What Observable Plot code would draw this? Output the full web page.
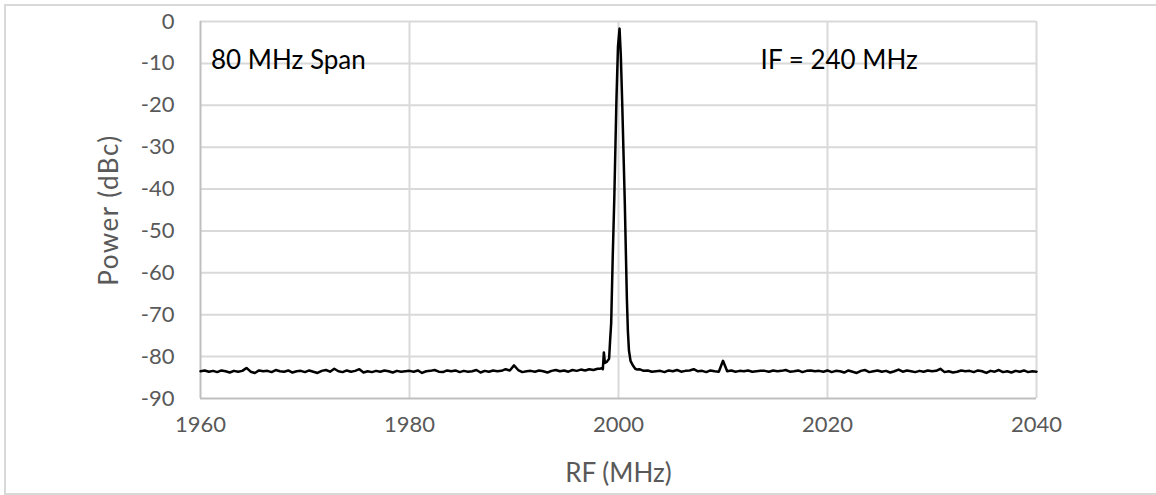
<!DOCTYPE html>
<html><head><meta charset="utf-8">
<script src="https://cdn.jsdelivr.net/npm/d3@7"></script>
<script src="https://cdn.jsdelivr.net/npm/@observablehq/plot@0.6"></script>
<style>
html,body{margin:0;padding:0;background:#fff;}
#wrap{position:relative;width:1156px;height:495px;overflow:hidden;}
#frame{position:absolute;left:4px;top:4px;width:1170px;height:491px;border:2px solid #d9d9d9;box-sizing:border-box;pointer-events:none;}
g[aria-label="y-axis label"] text{letter-spacing:1.5px;}
</style></head><body><div id="wrap"><div id="chart"></div><div id="frame"></div></div>
<script>
// Sampling grid of the noise floor (MHz)
const freqStart = 1960, freqStep = 0.4, rightStart = 2002.4;

// Noise floor 1960.0 .. 1998.0 MHz (dBc)
const leftNoise = [
  -83.5,-83.3,-83.6,-83.4,-83.7,-83.3,-83.5,-83.8,-83.4,-83.6,
  -83.4,-82.7,-83.6,-83.9,-83.3,-83.5,-83.4,-83.7,-83.2,-83.5,
  -83.6,-83.3,-83.8,-83.5,-83.4,-83.7,-83.3,-83.6,-83.9,-83.4,
  -83.2,-83.6,-82.9,-83.5,-83.7,-83.3,-83.6,-83.4,-83.0,-83.8,
  -83.5,-83.7,-83.4,-83.6,-83.3,-83.5,-83.8,-83.4,-83.6,-83.5,
  -83.4,-83.6,-83.3,-83.9,-83.5,-83.4,-83.2,-83.6,-83.7,-83.3,
  -83.5,-83.3,-83.7,-83.4,-83.6,-83.5,-83.2,-83.8,-83.4,-83.6,
  -83.3,-83.5,-83.4,-83.0,-83.3,-82.1,-83.2,-83.7,-83.5,-83.4,
  -83.6,-83.3,-83.5,-83.8,-83.4,-83.2,-83.5,-83.3,-83.6,-83.2,
  -83.4,-83.1,-83.3,-83.0,-83.2,-82.9
];

// Carrier region (MHz / dBc)
const peakFreq  = [1998.2,1998.4,1998.5,1998.6,1998.7,1998.9,1999.1,1999.2,1999.3,1999.45,1999.6,1999.8,1999.95,2000.1,2000.22,2000.35,2000.6,2000.8,2000.9,2001.0,2001.15,2001.4,2001.6,2001.8,2002.0];
const peakPower = [-82.9,-82.8,-83.0,-79.0,-81.5,-81.2,-80.5,-76,-72,-56,-42,-19,-6,-1.7,-8,-19,-43,-66,-74,-78.5,-81,-82.2,-82.9,-83.1,-83.0];

// Noise floor 2002.4 .. 2040.0 MHz (dBc)
const rightNoise = [
  -83.4,-83.3,-83.6,-83.5,-83.4,-83.7,-83.3,-83.5,-83.2,-83.6,
  -83.4,-83.3,-83.0,-83.5,-83.4,-83.7,-83.3,-83.5,-83.6,-81.0,
  -83.5,-83.3,-83.6,-83.4,-83.5,-83.3,-83.6,-83.5,-83.4,-83.4,
  -83.6,-83.3,-83.5,-83.4,-83.2,-83.6,-83.5,-83.3,-83.7,-83.4,
  -83.3,-83.5,-83.4,-83.6,-83.3,-83.7,-83.4,-83.5,-83.8,-83.3,
  -83.6,-83.9,-83.4,-83.2,-83.7,-83.5,-83.3,-83.6,-83.4,-83.8,
  -83.5,-83.1,-83.6,-83.3,-83.5,-83.7,-83.4,-83.6,-83.3,-83.5,
  -83.4,-82.9,-83.7,-83.5,-83.8,-83.6,-83.3,-83.5,-83.4,-83.7,
  -83.3,-83.5,-83.9,-83.4,-83.6,-83.2,-83.7,-83.5,-83.8,-83.4,
  -83.6,-83.3,-83.7,-83.5,-83.6
];

const xTicks = [1960, 1980, 2000, 2020, 2040];
const yTicks = [0, -10, -20, -30, -40, -50, -60, -70, -80, -90];
const annotations = [
  {text: "80 MHz Span", x: 1961, y: -9.3},
  {text: "IF = 240 MHz", x: 2013.6, y: -9.3}
];

const data = [
  ...leftNoise.map((p, i) => ({f: freqStart + i * freqStep, p})),
  ...peakFreq.map((f, i) => ({f, p: peakPower[i]})),
  ...rightNoise.map((p, i) => ({f: rightStart + i * freqStep, p}))
];

const fmt = d => String(d);

const chart = Plot.plot({
  width: 1156, height: 495,
  marginLeft: 200, marginRight: 120, marginTop: 21, marginBottom: 97,
  style: {fontFamily: "Lato, 'Open Sans', sans-serif", fontSize: "22px", color: "#595959", background: "transparent"},
  x: {domain: [1960, 2040]},
  y: {domain: [-90, 0]},
  marks: [
    Plot.gridY(yTicks.filter(v => v !== -90), {stroke: "#d9d9d9", strokeOpacity: 1, strokeWidth: 2}),
    Plot.gridX(xTicks.filter(v => v !== 1960), {stroke: "#d9d9d9", strokeOpacity: 1, strokeWidth: 2}),
    Plot.ruleX([1960], {stroke: "#bfbfbf", strokeWidth: 2}),
    Plot.ruleY([-90], {stroke: "#bfbfbf", strokeWidth: 2}),
    Plot.axisX(xTicks, {tickSize: 0, tickPadding: 18, tickFormat: fmt, fontSize: 22}),
    Plot.axisX({ticks: [], tickSize: 0, label: "RF (MHz)", labelAnchor: "center", labelArrow: "none", labelOffset: 83, fontSize: 26}),
    Plot.axisY(yTicks, {tickSize: 0, tickPadding: 26, tickFormat: fmt, fontSize: 22}),
    Plot.axisY({ticks: [], tickSize: 0, label: "Power (dBc)", labelAnchor: "center", labelArrow: "none", labelOffset: 101, fontSize: 26}),
    Plot.line(data, {x: "f", y: "p", stroke: "#000", strokeWidth: 2.5}),
    Plot.text(annotations, {x: "x", y: "y", text: "text", textAnchor: "start", fontSize: 26, fill: "#000"})
  ]
});
document.getElementById("chart").appendChild(chart);
</script></body></html>
